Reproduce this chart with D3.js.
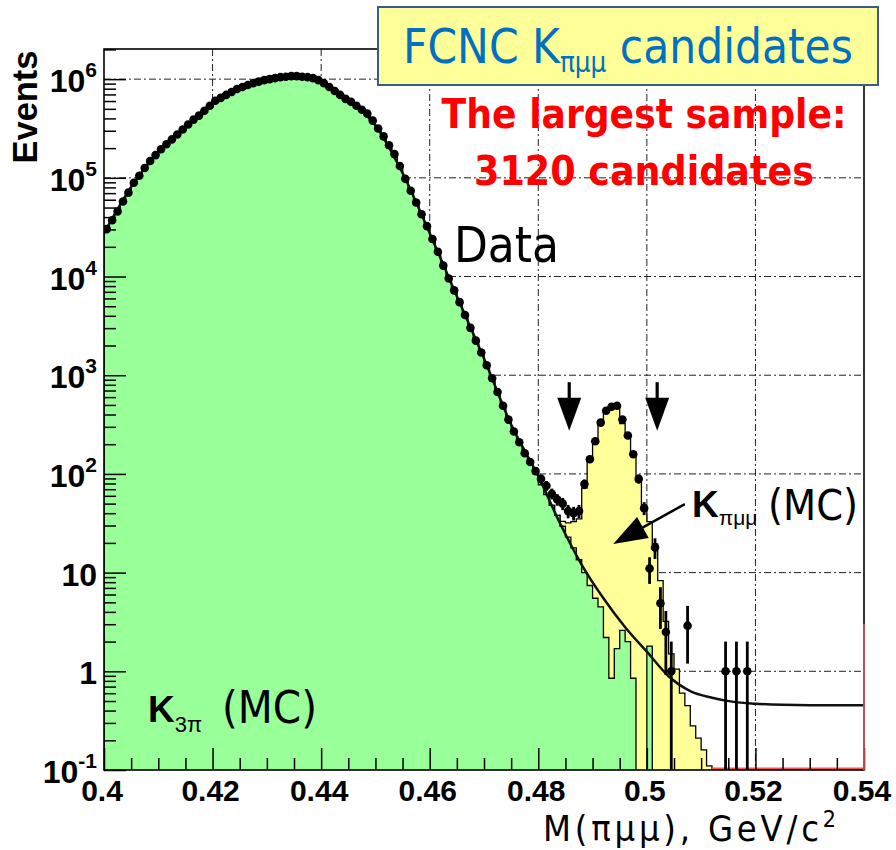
<!DOCTYPE html>
<html>
<head>
<meta charset="utf-8">
<script src="https://cdn.jsdelivr.net/npm/d3@7"></script>
<style>
  body { margin: 0; background: #fff; }
  svg { display: block; }
</style>
</head>
<body>
<svg id="chart" width="896" height="850"></svg>
<script>
// histogram binning (GeV)
const binStart = 0.400, binWidth = 0.001;

// K3pi MC, events per bin from 0.400 (bins past the list are empty)
const k3piMC = [
  30200, 37200, 45700, 57500, 70800, 89100, 105000, 126000, 148000, 170000,
  195000, 219000, 245000, 275000, 309000, 347000, 389000, 427000, 479000, 537000,
  603000, 646000, 692000, 741000, 794000, 832000, 871000, 912000, 944000, 977000,
  1000000, 1023000, 1047000, 1059000, 1072000, 1072000, 1059000, 1047000, 1023000, 977000,
  912000, 832000, 759000, 692000, 631000, 589000, 537000, 490000, 447000, 380000,
  316000, 263000, 214000, 174000, 132000, 97700, 74100, 56200, 42700, 32400,
  24000, 17800, 12900, 9550, 7240, 5500, 4070, 3020, 2240, 1700,
  1260, 933, 676, 490, 355, 269, 209, 162, 129, 100,
  77.6, 61.7, 47.9, 38.0, 29.5, 22.9, 17.8, 13.5, 10.0, 7.4,
  5.5, 4.5, 2.2, 0.85, 1.7, 2.6, 2.0, 0.85, 0, 0,
  1.8
];

// K -> pi mu mu MC, stacked on top of K3pi, first bin at kpmmStart
const kpmmStart = 0.484;
const kpmmMC = [
  3.5, 9, 15, 21.5, 62, 128, 208, 342, 435, 489,
  488, 321, 249, 161, 83, 45, 31, 19.5, 8.3, 3.2,
  1.5, 1.05, 0.6, 0.45, 0.28, 0.21, 0.16, 0.11
];

// data, events per bin from 0.400
const dataCounts = [
  30200, 37200, 45700, 57500, 70800, 89100, 105000, 126000, 148000, 170000,
  195000, 219000, 245000, 275000, 309000, 347000, 389000, 427000, 479000, 537000,
  603000, 646000, 692000, 741000, 794000, 832000, 871000, 912000, 944000, 977000,
  1000000, 1023000, 1047000, 1059000, 1072000, 1072000, 1059000, 1047000, 1023000, 977000,
  912000, 832000, 759000, 692000, 631000, 589000, 537000, 490000, 447000, 380000,
  316000, 263000, 214000, 174000, 132000, 97700, 74100, 56200, 42700, 32400,
  24000, 17800, 12900, 9550, 7240, 5500, 4070, 3020, 2240, 1700,
  1260, 933, 676, 490, 355, 269, 209, 162, 132, 107,
  89, 76, 63, 55, 50, 42, 40, 42, 79, 141,
  214, 331, 437, 479, 490, 355, 245, 158, 89, 45,
  11, 18, 4.9, 2.5, 1.0, 0, 0, 2.9, 0, 0,
  0, 0, 0, 0, 1, 0, 1, 0, 1
];

// fitted background curve
const fitMass = [0.400, 0.405, 0.410, 0.415, 0.420, 0.425, 0.430, 0.435, 0.440, 0.445,
  0.450, 0.455, 0.460, 0.465, 0.470, 0.475, 0.480, 0.484, 0.488, 0.492,
  0.496, 0.500, 0.504, 0.508, 0.512, 0.516, 0.520, 0.525, 0.530, 0.540];
const fitValue = [27500, 81000, 182000, 331000, 575000, 813000, 990000, 1070000, 955000, 617000,
  339000, 112000, 27500, 6300, 1480, 316, 95, 31.6, 12, 5.5,
  2.8, 1.58, 0.89, 0.63, 0.54, 0.49, 0.47, 0.457, 0.452, 0.452];

// signal window arrows and the pointer to the MC peak
const cutArrows = [{ m: 0.4857, from: 850, to: 274 }, { m: 0.5019, from: 850, to: 274 }];
const pointer = { from: [0.5070, 49.5], to: [0.4938, 19.5] };

const xTicks = [0.40, 0.42, 0.44, 0.46, 0.48, 0.50, 0.52, 0.54];
const xTickLabels = ['0.4', '0.42', '0.44', '0.46', '0.48', '0.5', '0.52', '0.54'];
const yTicks = [0.1, 1, 10, 100, 1e3, 1e4, 1e5, 1e6];
const yTickLabels = [['10', '-1'], ['1', ''], ['10', ''], ['10', '2'], ['10', '3'], ['10', '4'], ['10', '5'], ['10', '6']];
const xGrid = [0.42, 0.44, 0.46, 0.48, 0.50, 0.52];
const yGrid = [1, 10, 100, 1e3, 1e4, 1e5, 1e6];

/*************************************************************************/

const svg = d3.select('#chart');
const frameL = 104, frameR = 864, frameT = 49, frameB = 770;
const x = d3.scaleLinear().domain([0.40, 0.54]).range([frameL, frameR]);
const y = d3.scaleLog().domain([0.1, 2.02e6]).range([frameB, frameT]);
const below = frameB + 30;
const yv = v => v > 0 ? y(v) : below;

// scale a text (and its tspans) so that it spans the given width
function fitTo(sel, width) {
  const k = width / sel.node().getComputedTextLength();
  sel.attr('font-size', +sel.attr('font-size') * k);
  sel.selectAll('tspan').each(function () {
    const t = d3.select(this);
    if (t.attr('font-size')) t.attr('font-size', +t.attr('font-size') * k);
    if (t.attr('dy')) t.attr('dy', +t.attr('dy') * k);
  });
  return sel;
}

svg.append('defs').append('clipPath').attr('id', 'plotclip')
  .append('rect').attr('x', frameL).attr('y', frameT).attr('width', frameR - frameL).attr('height', frameB - frameT);

const plot = svg.append('g').attr('clip-path', 'url(#plotclip)');

// grid
plot.selectAll('.vgrid').data(xGrid).join('line')
  .attr('x1', d => x(d)).attr('x2', d => x(d)).attr('y1', frameT).attr('y2', frameB)
  .attr('stroke', '#222').attr('stroke-width', 1).attr('stroke-dasharray', '7,3,2,3');
plot.selectAll('.hgrid').data(yGrid).join('line')
  .attr('x1', frameL).attr('x2', frameR).attr('y1', d => y(d)).attr('y2', d => y(d))
  .attr('stroke', '#222').attr('stroke-width', 1).attr('stroke-dasharray', '7,3,2,3');

function stepPath(start, vals) {
  const p = d3.path();
  p.moveTo(x(start), below);
  vals.forEach((v, i) => {
    p.lineTo(x(start + i * binWidth), yv(v));
    p.lineTo(x(start + (i + 1) * binWidth), yv(v));
  });
  p.lineTo(x(start + vals.length * binWidth), below);
  p.closePath();
  return p.toString();
}

// stacked MC: total (yellow) under K3pi (green)
const kpmmOffset = Math.round((kpmmStart - binStart) / binWidth);
const nStack = Math.max(k3piMC.length, kpmmOffset + kpmmMC.length);
const stackTotal = d3.range(nStack).map(i => (k3piMC[i] || 0) + (kpmmMC[i - kpmmOffset] || 0));

plot.append('path').attr('d', stepPath(binStart, stackTotal))
  .attr('fill', '#ffff99').attr('stroke', '#000').attr('stroke-width', 1.3);
plot.append('path').attr('d', stepPath(binStart, k3piMC))
  .attr('fill', '#99ff99').attr('stroke', '#000').attr('stroke-width', 1.3);

// red outline running along the bottom past the MC
plot.append('line')
  .attr('x1', x(binStart + stackTotal.length * binWidth)).attr('x2', x(0.54))
  .attr('y1', y(0.1) - 1).attr('y2', y(0.1) - 1)
  .attr('stroke', '#ff5050').attr('stroke-width', 3);

// fit
const fitLine = d3.line().x(d => x(d[0])).y(d => y(d[1])).curve(d3.curveMonotoneX);
plot.append('path').attr('d', fitLine(fitMass.map((m, i) => [m, fitValue[i]])))
  .attr('fill', 'none').attr('stroke', '#111').attr('stroke-width', 2.5);

// data with sqrt(N) error bars
const pts = dataCounts.map((v, i) => ({ m: binStart + (i + 0.5) * binWidth, v: v })).filter(d => d.v > 0);
plot.selectAll('.err').data(pts).join('line')
  .attr('x1', d => x(d.m)).attr('x2', d => x(d.m))
  .attr('y1', d => yv(d.v + Math.sqrt(d.v))).attr('y2', d => yv(d.v - Math.sqrt(d.v)))
  .attr('stroke', '#000').attr('stroke-width', 2.8);
plot.selectAll('.dot').data(pts).join('circle')
  .attr('cx', d => x(d.m)).attr('cy', d => y(d.v)).attr('r', 4.3).attr('fill', '#000');

// arrows
cutArrows.forEach(a => {
  const xa = x(a.m), y0 = y(a.from), y1 = y(a.to), head = 33, hw = 12;
  svg.append('line').attr('x1', xa).attr('x2', xa).attr('y1', y0).attr('y2', y1 - head + 2)
    .attr('stroke', '#000').attr('stroke-width', 3.2);
  svg.append('path').attr('d', `M${xa - hw},${y1 - head}L${xa + hw},${y1 - head}L${xa},${y1}Z`).attr('fill', '#000');
});
{
  const x0 = x(pointer.from[0]), y0 = y(pointer.from[1]);
  const x1 = x(pointer.to[0]), y1 = y(pointer.to[1]);
  const len = Math.hypot(x1 - x0, y1 - y0), ux = (x1 - x0) / len, uy = (y1 - y0) / len;
  const head = 34, hw = 12;
  const bx = x1 - ux * head, by = y1 - uy * head;
  svg.append('line').attr('x1', x0).attr('y1', y0).attr('x2', bx + ux * 2).attr('y2', by + uy * 2)
    .attr('stroke', '#000').attr('stroke-width', 2.5);
  svg.append('path')
    .attr('d', `M${bx - uy * hw},${by + ux * hw}L${bx + uy * hw},${by - ux * hw}L${x1},${y1}Z`)
    .attr('fill', '#000');
}

// axes ticks (inward)
const yMinor = [];
yTicks.forEach(t => { for (let k = 2; k <= 9; k++) if (t * k <= 2.02e6) yMinor.push(t * k); });
const xMinor = d3.range(0, 29).map(i => 0.40 + i * 0.005).filter(v => Math.abs(v * 50 - Math.round(v * 50)) > 1e-6);

function tickStyle(g) {
  g.select('.domain').remove();
  g.selectAll('line').attr('stroke', '#000').attr('stroke-width', 1.5);
  g.selectAll('text').remove();
}
svg.append('g').attr('transform', `translate(${frameL},0)`)
  .call(d3.axisLeft(y).tickValues(yMinor).tickSize(-12)).call(tickStyle);
svg.append('g').attr('transform', `translate(${frameL},0)`)
  .call(d3.axisLeft(y).tickValues(yTicks).tickSize(-22)).call(tickStyle);
svg.append('g').attr('transform', `translate(0,${frameB})`)
  .call(d3.axisBottom(x).tickValues(xMinor).tickSize(-12)).call(tickStyle);
svg.append('g').attr('transform', `translate(0,${frameB})`)
  .call(d3.axisBottom(x).tickValues(xTicks).tickSize(-22)).call(tickStyle);

// frame
svg.append('rect').attr('x', frameL).attr('y', frameT).attr('width', frameR - frameL).attr('height', frameB - frameT)
  .attr('fill', 'none').attr('stroke', '#000').attr('stroke-width', 1.6);
svg.append('line').attr('x1', frameR).attr('x2', frameR).attr('y1', y(3)).attr('y2', frameB)
  .attr('stroke', '#e05a5a').attr('stroke-width', 1.6);

// tick labels
const labelFont = '"Liberation Sans", Arial, sans-serif';
yTicks.forEach((t, i) => {
  const txt = svg.append('text').attr('x', 97).attr('y', y(t) + 13)
    .attr('text-anchor', 'end').attr('font-family', labelFont).attr('font-weight', 'bold')
    .attr('font-size', 32).attr('fill', '#000');
  txt.append('tspan').text(yTickLabels[i][0]);
  if (yTickLabels[i][1]) txt.append('tspan').attr('dy', -15).attr('font-size', 21).text(yTickLabels[i][1]);
});
xTicks.forEach((t, i) => {
  svg.append('text').attr('x', x(t) - 2).attr('y', 801).attr('text-anchor', 'middle')
    .attr('font-family', labelFont).attr('font-weight', 'bold').attr('font-size', 30).attr('fill', '#000')
    .text(xTickLabels[i]);
});
fitTo(svg.append('text').attr('transform', 'translate(37,107) rotate(-90)').attr('text-anchor', 'middle')
  .attr('font-family', labelFont).attr('font-weight', 'bold').attr('font-size', 34).text('Events'), 113);

// overlay annotations
const noteFont = '"DejaVu Sans Condensed", "DejaVu Sans", sans-serif';
const xt = svg.append('text').attr('x', 543).attr('y', 841).attr('font-family', noteFont)
  .attr('font-size', 36).attr('textLength', 293).attr('lengthAdjust', 'spacing');
xt.append('tspan').text('M(πμμ), GeV/c');
xt.append('tspan').attr('dy', -14).attr('font-size', 23).text('2');

fitTo(svg.append('text').attr('x', 454).attr('y', 262).attr('font-family', noteFont).attr('font-size', 48).text('Data'), 105);

svg.append('rect').attr('x', 378).attr('y', 7).attr('width', 500).attr('height', 78)
  .attr('fill', '#ffff99').attr('stroke', '#385d8a').attr('stroke-width', 2);
const ft = svg.append('text').attr('x', 403).attr('y', 63).attr('font-family', noteFont)
  .attr('font-size', 48).attr('fill', '#0070c0');
ft.append('tspan').text('FCNC K');
ft.append('tspan').attr('dy', 9).attr('font-size', 28).text('πμμ');
ft.append('tspan').attr('dy', -9).text(' candidates');
fitTo(ft, 450);

fitTo(svg.append('text').attr('x', 644).attr('y', 128).attr('text-anchor', 'middle').attr('font-family', noteFont)
  .attr('font-weight', 'bold').attr('font-size', 39).attr('fill', '#ff0000').text('The largest sample:'), 405);
fitTo(svg.append('text').attr('x', 644).attr('y', 185).attr('text-anchor', 'middle').attr('font-family', noteFont)
  .attr('font-weight', 'bold').attr('font-size', 39).attr('fill', '#ff0000').text('3120 candidates'), 340);

const kp = svg.append('text').attr('x', 692).attr('y', 517).attr('font-family', labelFont);
kp.append('tspan').attr('font-weight', 'bold').attr('font-size', 37).text('K');
kp.append('tspan').attr('dy', 8).attr('font-size', 21).text('πμμ');
fitTo(svg.append('text').attr('x', 768).attr('y', 520).attr('font-family', noteFont).attr('font-size', 42).text('(MC)'), 90);

const k3 = svg.append('text').attr('x', 148).attr('y', 722).attr('font-family', labelFont);
k3.append('tspan').attr('font-weight', 'bold').attr('font-size', 37).text('K');
k3.append('tspan').attr('dy', 10).attr('font-size', 22).text('3π');
fitTo(svg.append('text').attr('x', 222).attr('y', 723).attr('font-family', noteFont).attr('font-size', 42).text('(MC)'), 95);
</script>
</body>
</html>
